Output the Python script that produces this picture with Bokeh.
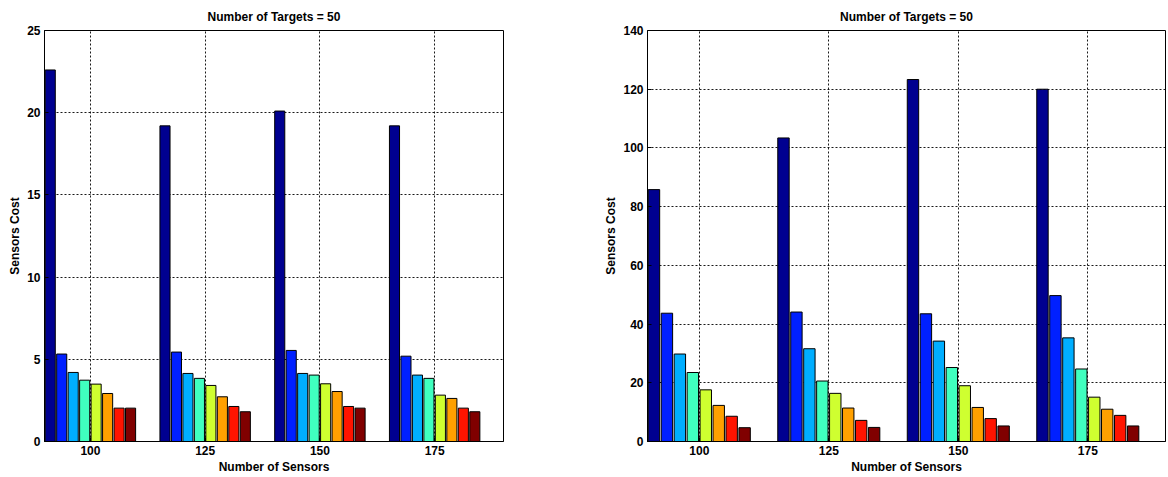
from bokeh.plotting import figure
from bokeh.layouts import row
from bokeh.models import ColumnDataSource, FixedTicker
from bokeh.transform import dodge
from bokeh.embed import file_html
from bokeh.resources import INLINE

groups = [100, 125, 150, 175]
tick_labels = ["100", "125", "150", "175"]
colors = ["#000090", "#0020FF", "#00AEFF", "#40FFBF", "#CFFF30", "#FFA000", "#FF1400", "#800000"]

# Left chart: 8 series x 4 groups
left_s1 = [22.6, 19.2, 20.1, 19.2]
left_s2 = [5.32, 5.44, 5.54, 5.19]
left_s3 = [4.2, 4.14, 4.14, 4.04]
left_s4 = [3.73, 3.84, 4.04, 3.84]
left_s5 = [3.49, 3.41, 3.51, 2.82]
left_s6 = [2.92, 2.72, 3.04, 2.62]
left_s7 = [2.03, 2.13, 2.13, 2.03]
left_s8 = [2.03, 1.81, 2.03, 1.81]

# Right chart
right_s1 = [85.8, 103.4, 123.3, 120.0]
right_s2 = [43.7, 44.1, 43.5, 49.7]
right_s3 = [29.8, 31.6, 34.2, 35.3]
right_s4 = [23.5, 20.6, 25.2, 24.7]
right_s5 = [17.6, 16.4, 19.0, 15.1]
right_s6 = [12.3, 11.4, 11.6, 11.0]
right_s7 = [8.6, 7.2, 7.8, 8.9]
right_s8 = [4.7, 4.8, 5.3, 5.3]

FONT = "Liberation Sans"


def make(series, ymax, ystep, bl, br, fw, title):
    p = figure(x_range=(90, 190), y_range=(0, ymax), output_backend="svg",
               toolbar_location=None, frame_width=fw, frame_height=411,
               min_border_left=bl, min_border_right=br, min_border_top=30,
               min_border_bottom=36, title=title)
    data = {"x": groups}
    for i, s in enumerate(series):
        data["s%d" % i] = s
    src = ColumnDataSource(data)
    n = len(series)
    for i in range(n):
        off = (i - (n - 1) / 2) * 2.5
        p.vbar(x=dodge("x", off, range=p.x_range), top="s%d" % i, width=2.2,
               source=src, fill_color=colors[i], line_color="black", line_width=1)
    p.title.align = "center"
    p.title.text_font = FONT
    p.title.text_font_size = "12px"
    p.title.text_font_style = "bold"
    p.title.text_color = "black"
    p.title.offset = 0
    p.title.standoff = 14
    p.xaxis.ticker = FixedTicker(ticks=groups)
    p.xaxis.major_label_overrides = {g: t for g, t in zip(groups, tick_labels)}
    p.yaxis.ticker = FixedTicker(ticks=list(range(0, ymax + 1, ystep)))
    p.xaxis.axis_label = "Number of Sensors"
    p.yaxis.axis_label = "Sensors Cost"
    for ax in (p.xaxis, p.yaxis):
        ax.axis_label_text_font = FONT
        ax.axis_label_text_font_size = "12px"
        ax.axis_label_text_font_style = "bold"
        ax.major_label_text_font = FONT
        ax.major_label_text_font_size = "12px"
        ax.major_label_text_font_style = "bold"
        ax.major_tick_in = 4
        ax.major_tick_out = 0
        ax.minor_tick_in = 0
        ax.minor_tick_out = 0
        ax.axis_line_color = "black"
        ax.major_tick_line_color = "black"
        ax.major_label_text_color = "black"
        ax.axis_label_text_color = "black"
        ax.major_label_standoff = 4
        ax.axis_label_standoff = 2
    p.grid.grid_line_color = "black"
    p.grid.grid_line_dash = "2 2"
    p.grid.grid_line_alpha = 0.9
    p.outline_line_color = "black"
    p.outline_line_alpha = 1
    p.background_fill_color = "white"
    return p


p1 = make([left_s1, left_s2, left_s3, left_s4, left_s5, left_s6, left_s7, left_s8],
          25, 5, 44, 87, 459, "Number of Targets = 50")
p2 = make([right_s1, right_s2, right_s3, right_s4, right_s5, right_s6, right_s7, right_s8],
          140, 20, 57, 3, 518, "Number of Targets = 50")

layout = row(p1, p2)
open("out.html", "w").write(file_html(layout, INLINE))
